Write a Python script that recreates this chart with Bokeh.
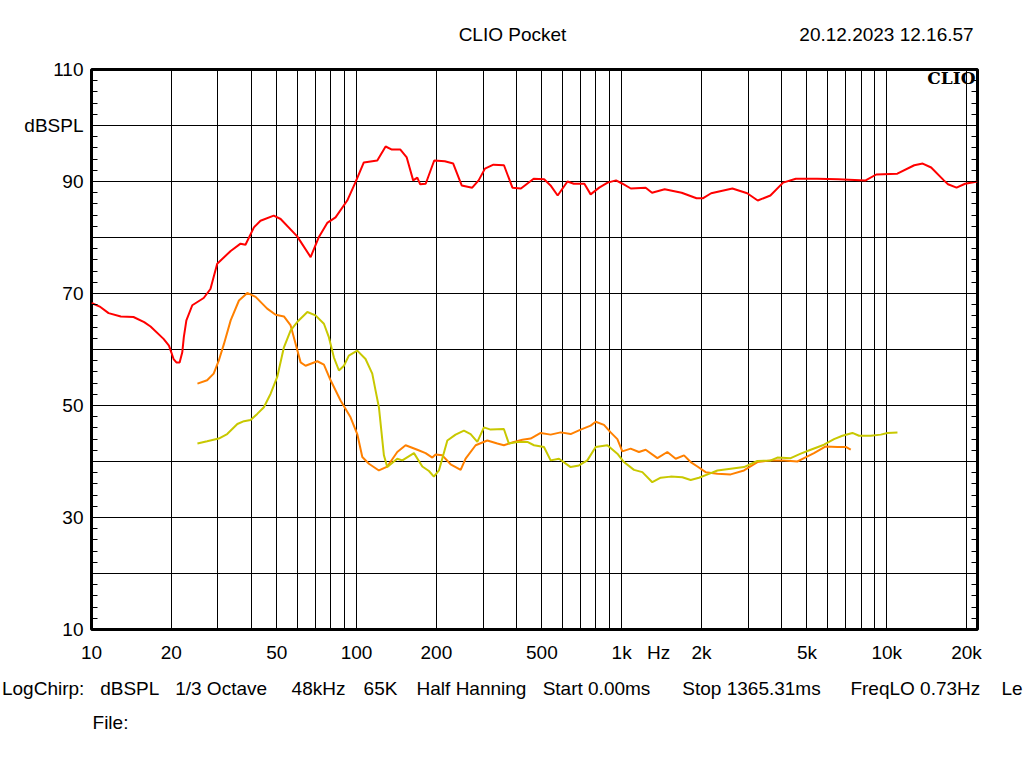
from bokeh.plotting import figure
from bokeh.models import Range1d, FixedTicker, LinearAxis, Label, LinearScale
from bokeh.embed import file_html
from bokeh.resources import INLINE

# ---------------- data ----------------
red_f = [10, 10.8, 11.6, 12.9, 14.4, 15.8, 16.7, 18.7, 19.6, 20.0, 20.4, 20.9, 21.5, 22.0, 22.3, 22.8,
         24.0, 26.5, 28.1, 29.8, 33.5, 36.5, 38.1, 41.0, 43.4, 48.7, 51.7, 59.7, 67.1, 72.1, 77.5, 83.3,
         92.2, 99.1, 106.5, 119.7, 128.7, 135.9, 146.3, 154.6, 163.5, 169.5, 173.8, 182.3, 196.3, 215.2,
         231.5, 249.2, 273.1, 288.7, 305, 328.3, 359.8, 387.2, 416.9, 465.6, 510, 539.2, 573.6, 624.6,
         659.6, 723.3, 763.9, 822.7, 885.6, 952.5, 1007, 1083, 1232, 1302, 1453, 1684, 1916, 2023, 2176,
         2617, 2976, 3261, 3640, 4065, 4539, 5458, 6556, 8326, 9130, 10965, 12700, 13670, 14710, 16430,
         17030, 18340, 19750, 22000]
red_db = [68.3, 67.6, 66.5, 65.9, 65.8, 64.9, 64.1, 61.9, 60.7, 59.5, 58.3, 57.7, 57.7, 59.5, 62.2, 65.2,
          67.9, 69.2, 70.8, 75.3, 77.6, 78.9, 78.7, 81.8, 83.0, 83.9, 83.3, 80.2, 76.5, 80.1, 82.6, 83.6,
          86.6, 89.9, 93.4, 93.75, 96.25, 95.7, 95.7, 94.3, 90.2, 90.7, 89.5, 89.6, 93.75, 93.6,
          93.2, 89.3, 88.9, 90.2, 92.3, 93.0, 92.9, 88.9, 88.75, 90.5, 90.4, 89.3, 87.5, 90.0,
          89.6, 89.6, 87.7, 88.9, 89.8, 90.2, 89.6, 88.75, 88.9, 88.0, 88.6, 88.0, 87.0, 87.0, 87.9,
          88.75, 87.9, 86.6, 87.5, 89.8, 90.5, 90.5, 90.4, 90.2, 91.25, 91.4, 92.9, 93.2, 92.5, 90.2,
          89.5, 88.9, 89.6, 90.0]

orange_f = [25.1, 27.3, 28.9, 30.2, 31.6, 33.5, 36.0, 38.7, 41.6, 46.0, 49.5, 53.2, 56.4, 58.9, 61.5, 64.2,
            71.1, 75.3, 79.8, 87.0, 94.9, 100.6, 105.1, 111.3, 121.4, 130.6, 142.4, 153.1, 169.5, 182.1,
            193.1, 198.7, 210.6, 226.3, 247, 257.8, 281.3, 311.3, 339.6, 359.5, 392.4, 422.1, 453.6, 494.8,
            539.7, 588.8, 642.1, 700.3, 763.9, 798, 857.6, 908.8, 963.4, 1006, 1081, 1162, 1232, 1364, 1487,
            1599, 1719, 1821, 1931, 2075, 2297, 2578, 2894, 3252, 3651, 4097, 4603, 4874, 5317, 5887, 6517,
            7003, 7315]
orange_db = [53.9, 54.5, 55.7, 58.0, 61.0, 65.2, 68.75, 70.1, 69.4, 67.3, 66.2, 65.9, 64.3, 61.0, 57.7, 57.1,
             57.9, 57.3, 54.5, 50.9, 47.9, 44.9, 40.8, 39.6, 38.4, 39.1, 41.7, 42.9, 42.1, 41.5,
             40.7, 41.25, 41.1, 39.5, 38.5, 40.5, 42.9, 43.75, 43.2, 42.9, 43.5, 43.9, 44.1, 45.1,
             44.8, 45.2, 44.9, 45.7, 46.4, 47.1, 46.55, 45.2, 44.0, 41.8, 42.3, 41.7, 42.1, 40.6, 41.7,
             40.5, 41.1, 39.9, 39.1, 38.1, 37.8, 37.7, 38.4, 39.9, 40.2, 40.2, 40.0, 40.6, 41.5, 42.7, 42.6,
             42.6, 42.1]

yellow_f = [25.1, 27.3, 30.2, 32.5, 35.5, 37.6, 39.8, 42.2, 44.7, 47.4, 50.2, 53.2, 56.4, 59.7, 65.2, 70.0,
            75.3, 78.6, 82.1, 85.8, 89.6, 93.5, 100.6, 108.1, 114.6, 117.9, 121.4, 126.8, 130.6, 142.4,
            148.8, 164.6, 177, 187.5, 195.7, 204.5, 220, 236.3, 254.1, 269.3, 285.5, 302.3, 320.5, 359.5,
            375.5, 404.1, 440.9, 466.9, 509.2, 539.7, 580.2, 642.1, 690.1, 742.2, 798, 883.1, 963.4, 1020,
            1113, 1197, 1305, 1404, 1530, 1694, 1821, 1957, 2135, 2297, 2578, 2894, 3252, 3651, 3868, 4343,
            4736, 5167, 5800, 6326, 6805, 7423, 7862, 8702, 9493, 10060, 10975]
yellow_db = [43.2, 43.6, 44.1, 44.9, 46.7, 47.2, 47.4, 48.5, 49.7, 52.1, 55.1, 60.4, 63.4, 64.9, 66.7, 66.1,
             64.6, 62.2, 58.6, 56.25, 57.1, 58.9, 59.8, 58.3, 55.7, 52.7, 49.7, 41.1, 39.0, 40.5,
             40.2, 41.5, 39.1, 38.3, 37.3, 38.4, 43.75, 44.8, 45.5, 44.9, 43.5, 46.1, 45.7, 45.8,
             43.2, 43.5, 43.5, 42.9, 42.6, 40.2, 40.5, 39.0, 39.3, 40.2, 42.6, 42.9, 41.4, 39.9,
             38.5, 38.1, 36.3, 37.1, 37.3, 37.2, 36.7, 37.1, 37.8, 38.4, 38.7, 39.0, 40.1, 40.2, 40.7, 40.6,
             41.4, 42.1, 43.0, 44.0, 44.6, 45.1, 44.6, 44.6, 44.8, 45.1, 45.2]

x_ticks = [10, 20, 50, 100, 200, 500, 1000, 1380, 2000, 5000, 10000, 20000]
x_labels = ["10", "20", "50", "100", "200", "500", "1k", "Hz", "2k", "5k", "10k", "20k"]
x_grid = [20, 30, 40, 50, 60, 70, 80, 90, 100, 200, 300, 400, 500, 600, 700, 800, 900,
          1000, 2000, 3000, 4000, 5000, 6000, 7000, 8000, 9000, 10000, 20000]
y_ticks = [10, 20, 30, 40, 50, 60, 70, 80, 90, 100, 110]
y_labels = ["10", "", "30", "", "50", "", "70", "", "90", "dBSPL", "110"]

NB = "\u00a0"
header_items = ["CLIO Pocket", "20.12.2023 12.16.57"]
header_pos = [512, 886]
info_items = ["LogChirp:" + NB * 3 + "dBSPL" + NB * 3 + "1/3 Octave", "48kHz", "65K", "Half Hanning",
              "Start 0.00ms", "Stop 1365.31ms", "FreqLO 0.73Hz" + NB * 4 + "Le"]
info_pos = [134, 318, 380, 471, 596, 751, 936]
file_items = ["File:"]
file_pos = [110]

FONT = "Liberation Sans"
FS = "19px"

p = figure(width=1024, height=760, x_axis_type="log",
           x_range=Range1d(10, 22000), y_range=Range1d(10, 110),
           output_backend="svg", toolbar_location=None,
           min_border_left=91, min_border_right=47, min_border_top=69, min_border_bottom=131,
           background_fill_color="white", border_fill_color="white")

p.extra_x_ranges = {"px": Range1d(91, 977)}
p.extra_x_scales = {"px": LinearScale()}

p.outline_line_color = "black"
p.outline_line_width = 3
p.outline_line_alpha = 1.0

p.xgrid.ticker = FixedTicker(ticks=x_grid)
p.ygrid.ticker = FixedTicker(ticks=y_ticks[1:-1])
for g in (p.xgrid[0], p.ygrid[0]):
    g.grid_line_color = "black"
    g.grid_line_width = 1
    g.grid_line_alpha = 1.0


def style_axis(ax, standoff):
    ax.axis_line_color = None
    ax.major_tick_in = 0
    ax.major_tick_out = 0
    ax.minor_tick_in = 0
    ax.minor_tick_out = 0
    ax.major_label_standoff = standoff
    ax.major_label_text_font = FONT
    ax.major_label_text_font_size = FS
    ax.major_label_text_color = "black"


xa = p.xaxis[0]
xa.ticker = FixedTicker(ticks=x_ticks, minor_ticks=[])
xa.major_label_overrides = {t: l for t, l in zip(x_ticks, x_labels)}
style_axis(xa, 12)

minor_y = [v for v in range(10, 111, 2)]
ya = p.yaxis[0]
ya.ticker = FixedTicker(ticks=y_ticks, minor_ticks=minor_y)
ya.major_label_overrides = {t: l for t, l in zip(y_ticks, y_labels)}
style_axis(ya, 8)
ya.minor_tick_in = 6
ya.minor_tick_line_color = "black"

ra = LinearAxis(ticker=FixedTicker(ticks=y_ticks, minor_ticks=minor_y))
style_axis(ra, 0)
ra.minor_tick_in = 6
ra.minor_tick_line_color = "black"
ra.major_label_text_font_size = "0px"
ra.major_label_text_alpha = 0
p.add_layout(ra, "right")

# header line (title + date) carried by an axis above the frame
top_ax = LinearAxis(x_range_name="px", ticker=FixedTicker(ticks=header_pos, minor_ticks=[]),
                    major_label_overrides={t: l for t, l in zip(header_pos, header_items)})
style_axis(top_ax, 25)
p.add_layout(top_ax, "above")

# footer lines carried by axes below the frequency axis
info_ax = LinearAxis(x_range_name="px", ticker=FixedTicker(ticks=info_pos, minor_ticks=[]),
                     major_label_overrides={t: l for t, l in zip(info_pos, info_items)})
style_axis(info_ax, 12)
p.add_layout(info_ax, "below")

file_ax = LinearAxis(x_range_name="px", ticker=FixedTicker(ticks=file_pos, minor_ticks=[]),
                     major_label_overrides={t: l for t, l in zip(file_pos, file_items)})
style_axis(file_ax, 10)
p.add_layout(file_ax, "below")

p.line(red_f, red_db, line_color="#FF0000", line_width=2)
p.line(orange_f, orange_db, line_color="#FF8000", line_width=2)
p.line(yellow_f, yellow_db, line_color="#C8C800", line_width=2)

p.add_layout(Label(x=884, y=552, x_units="screen", y_units="screen", text="CLIO",
                   text_align="right", text_baseline="middle", text_font="DejaVu Serif",
                   text_font_size="17px", text_font_style="bold", text_color="black"))

open("out.html", "w").write(file_html(p, INLINE))
